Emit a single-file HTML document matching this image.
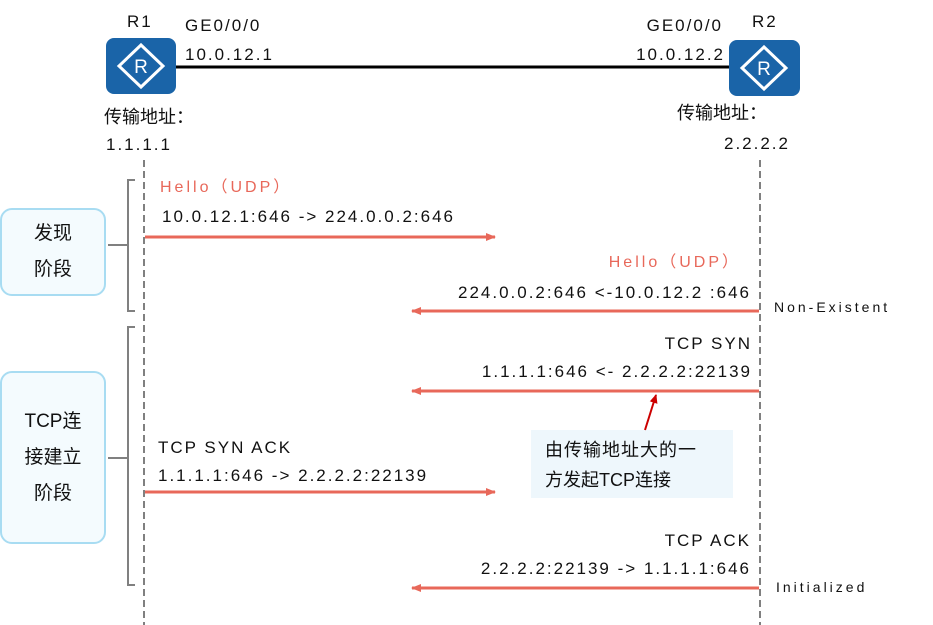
<!DOCTYPE html>
<html><head><meta charset="utf-8"><style>
body{margin:0;width:933px;height:625px;background:#fff;position:relative;overflow:hidden;font-family:"Liberation Sans","Noto Sans CJK SC",sans-serif;color:#111}
.t{position:absolute;font-size:17px;letter-spacing:2px;white-space:nowrap;line-height:1}
.r{color:#e8685a;font-size:16px;letter-spacing:3px}
.s{font-size:14px;letter-spacing:3px}
.c{letter-spacing:0;font-size:18px}
.box{position:absolute;border:2px solid #a8dcf2;background:#f4fbfe;border-radius:12px;box-sizing:border-box;display:flex;align-items:center;justify-content:center;text-align:center;font-size:19px;line-height:36px}
</style></head><body>
<svg width="933" height="625" style="position:absolute;left:0;top:0">
<defs><marker id="a" markerWidth="10" markerHeight="10" refX="9" refY="5" orient="auto" markerUnits="userSpaceOnUse"><path d="M0,1 L10,5 L0,9z" fill="#e8685a"/></marker>
<marker id="b" markerWidth="10" markerHeight="10" refX="8" refY="5" orient="auto" markerUnits="userSpaceOnUse"><path d="M0,1 L9,5 L0,9z" fill="#c00"/></marker></defs>
<line x1="175" y1="67" x2="730" y2="67" stroke="#000" stroke-width="3"/>
<rect x="106" y="38" width="70" height="56" rx="8" fill="#1a64a8"/>
<path d="M141,45 L163,66 L141,87 L119,66z" fill="none" stroke="#fff" stroke-width="3"/>
<text x="141" y="73" font-size="19" fill="#fff" text-anchor="middle" font-family="Liberation Sans">R</text>
<rect x="729" y="40" width="71" height="56" rx="8" fill="#1a64a8"/>
<path d="M764,47 L786,68 L764,89 L742,68z" fill="none" stroke="#fff" stroke-width="3"/>
<text x="764" y="75" font-size="19" fill="#fff" text-anchor="middle" font-family="Liberation Sans">R</text>
<line x1="144" y1="160" x2="144" y2="625" stroke="#808080" stroke-width="2" stroke-dasharray="7,4"/>
<line x1="760" y1="160" x2="760" y2="625" stroke="#808080" stroke-width="2" stroke-dasharray="7,4"/>
<path d="M135,180 H128 V311 H135 M108,245 H128" fill="none" stroke="#808080" stroke-width="2"/>
<path d="M135,327 H128 V585 H135 M108,458 H128" fill="none" stroke="#808080" stroke-width="2"/>
<g stroke="#e8685a" stroke-width="3" marker-end="url(#a)">
<line x1="145" y1="237" x2="495" y2="237"/>
<line x1="759" y1="311" x2="412" y2="311"/>
<line x1="759" y1="391" x2="412" y2="391"/>
<line x1="145" y1="492" x2="495" y2="492"/>
<line x1="759" y1="588" x2="412" y2="588"/>
</g>
<rect x="531" y="430" width="202" height="68" fill="#eef7fc"/>
<line x1="645" y1="430" x2="656" y2="395" stroke="#c00" stroke-width="2" marker-end="url(#b)"/>
</svg>
<div class="t" style="left:127px;top:13px">R1</div>
<div class="t" style="left:185px;top:17px">GE0/0/0</div>
<div class="t" style="left:185px;top:46px">10.0.12.1</div>
<div class="t c" style="left:104px;top:108px">传输地址：</div>
<div class="t" style="left:106px;top:136px">1.1.1.1</div>
<div class="t" style="left:752px;top:13px">R2</div>
<div class="t" style="right:210px;top:17px">GE0/0/0</div>
<div class="t" style="right:208px;top:46px">10.0.12.2</div>
<div class="t c" style="left:677px;top:104px">传输地址：</div>
<div class="t" style="left:724px;top:135px">2.2.2.2</div>
<div class="box" style="left:0;top:208px;width:106px;height:88px">发现<br>阶段</div>
<div class="box" style="left:0;top:371px;width:106px;height:173px">TCP连<br>接建立<br>阶段</div>
<div class="t r" style="left:160px;top:180px">Hello（UDP）</div>
<div class="t" style="left:162px;top:208px">10.0.12.1:646 -&gt; 224.0.0.2:646</div>
<div class="t r" style="right:192px;top:255px">Hello（UDP）</div>
<div class="t" style="right:182px;top:284px">224.0.0.2:646 &lt;-10.0.12.2 :646</div>
<div class="t s" style="left:774px;top:300px">Non-Existent</div>
<div class="t" style="right:181px;top:335px">TCP SYN</div>
<div class="t" style="right:181px;top:363px">1.1.1.1:646 &lt;- 2.2.2.2:22139</div>
<div class="t" style="left:158px;top:439px">TCP SYN ACK</div>
<div class="t" style="left:158px;top:467px">1.1.1.1:646 -&gt; 2.2.2.2:22139</div>
<div class="t" style="left:545px;top:441px;font-size:18px;letter-spacing:1px">由传输地址大的一</div>
<div class="t" style="left:545px;top:471px;font-size:18px;letter-spacing:0">方发起TCP连接</div>
<div class="t" style="right:182px;top:532px">TCP ACK</div>
<div class="t" style="right:182px;top:560px">2.2.2.2:22139 -&gt; 1.1.1.1:646</div>
<div class="t s" style="left:776px;top:580px">Initialized</div>
</body></html>
